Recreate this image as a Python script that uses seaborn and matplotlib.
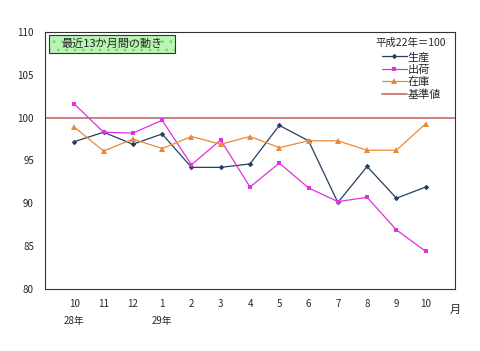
import numpy as np
import pandas as pd
import matplotlib
matplotlib.use("Agg")
import matplotlib.pyplot as plt
import seaborn as sns
from matplotlib.patches import Rectangle

months = ["10", "11", "12", "1", "2", "3", "4", "5", "6", "7", "8", "9", "10"]
production = [97.2, 98.3, 96.9, 98.1, 94.2, 94.2, 94.6, 99.1, 97.3, 90.1, 94.3, 90.6, 91.9]
shipments = [101.6, 98.3, 98.2, 99.7, 94.5, 97.4, 91.9, 94.7, 91.8, 90.2, 90.7, 86.9, 84.4]
inventory = [98.9, 96.1, 97.5, 96.4, 97.8, 96.9, 97.8, 96.5, 97.3, 97.3, 96.2, 96.2, 99.3]
series_names = ["生産", "出荷", "在庫"]
baseline_value = 100
baseline_name = "基準値"
year_labels = {0: "28年", 3: "29年"}
title_text = "最近13か月間の動き"
base_note = "平成22年＝100"
yticks = [80, 85, 90, 95, 100, 105, 110]

sns.set_theme(style="white")
plt.rcParams['font.family'] = ['Noto Sans CJK JP', 'DejaVu Sans']
plt.rcParams['hatch.linewidth'] = 0.8

df = pd.DataFrame({
    "idx": list(range(len(months))) * 3,
    "value": production + shipments + inventory,
    "series": sum([[n] * len(months) for n in series_names], []),
})

colors = {"生産": "#243f60", "出荷": "#e030e0", "在庫": "#e8893a"}
markers = {"生産": "D", "出荷": "s", "在庫": "^"}
msize = {"生産": 2.8, "出荷": 3.4, "在庫": 3.8}

fig = plt.figure(figsize=(4.8, 3.51), dpi=100)
ax = fig.add_axes([45/480, 1-289/351, 410/480, 257/351])

for name in series_names:
    sub = df[df.series == name]
    sns.lineplot(data=sub, x="idx", y="value", ax=ax, color=colors[name],
                 marker=markers[name], markersize=msize[name], markeredgewidth=0,
                 linewidth=0.9, label=name, legend=False)
ax.axhline(baseline_value, color="#cc7474", linewidth=1.3, label=baseline_name, zorder=0)

ax.set_xlim(-1, len(months))
ax.set_ylim(80, 110)
ax.set_yticks(yticks)
ax.set_xticks(range(len(months)))
ax.set_xticklabels(months)
ax.tick_params(axis="x", direction="in", length=3, width=0.6, labelsize=7, pad=7, color="#333333")
ax.tick_params(axis="y", length=0, labelsize=7, pad=8)
ax.set_xlabel("")
ax.set_ylabel("")
for s in ax.spines.values():
    s.set_color("#333333")
    s.set_linewidth(0.8)

for i, t in year_labels.items():
    ax.text(i, -0.105, t, transform=ax.get_xaxis_transform(), ha="center", va="top", fontsize=7)
ax.text(1.0, -0.06, "月", transform=ax.transAxes, ha="center", va="top", fontsize=8)

# title box
bx, by, bw, bh = 0.01, 0.918, 0.307, 0.07
ax.add_patch(Rectangle((bx, by), bw, bh, transform=ax.transAxes, facecolor="#b8f5b2",
                       edgecolor="#86d080", linewidth=0, hatch="..", zorder=3))
ax.add_patch(Rectangle((bx, by), bw, bh, transform=ax.transAxes, facecolor="none",
                       edgecolor="#333333", linewidth=0.8, zorder=3.5))
ax.text(bx + bw/2, by + bh/2, title_text, transform=ax.transAxes, ha="center", va="center",
        fontsize=8, zorder=4)

ax.text(0.978, 0.96, base_note, transform=ax.transAxes, ha="right", va="center", fontsize=7.5)
leg = ax.legend(loc="upper right", bbox_to_anchor=(0.985, 0.952), frameon=False, fontsize=8,
                handlelength=2.2, handletextpad=0.1, labelspacing=0.2, borderpad=0.2)

fig.savefig("out.png", dpi=100, facecolor="white")
